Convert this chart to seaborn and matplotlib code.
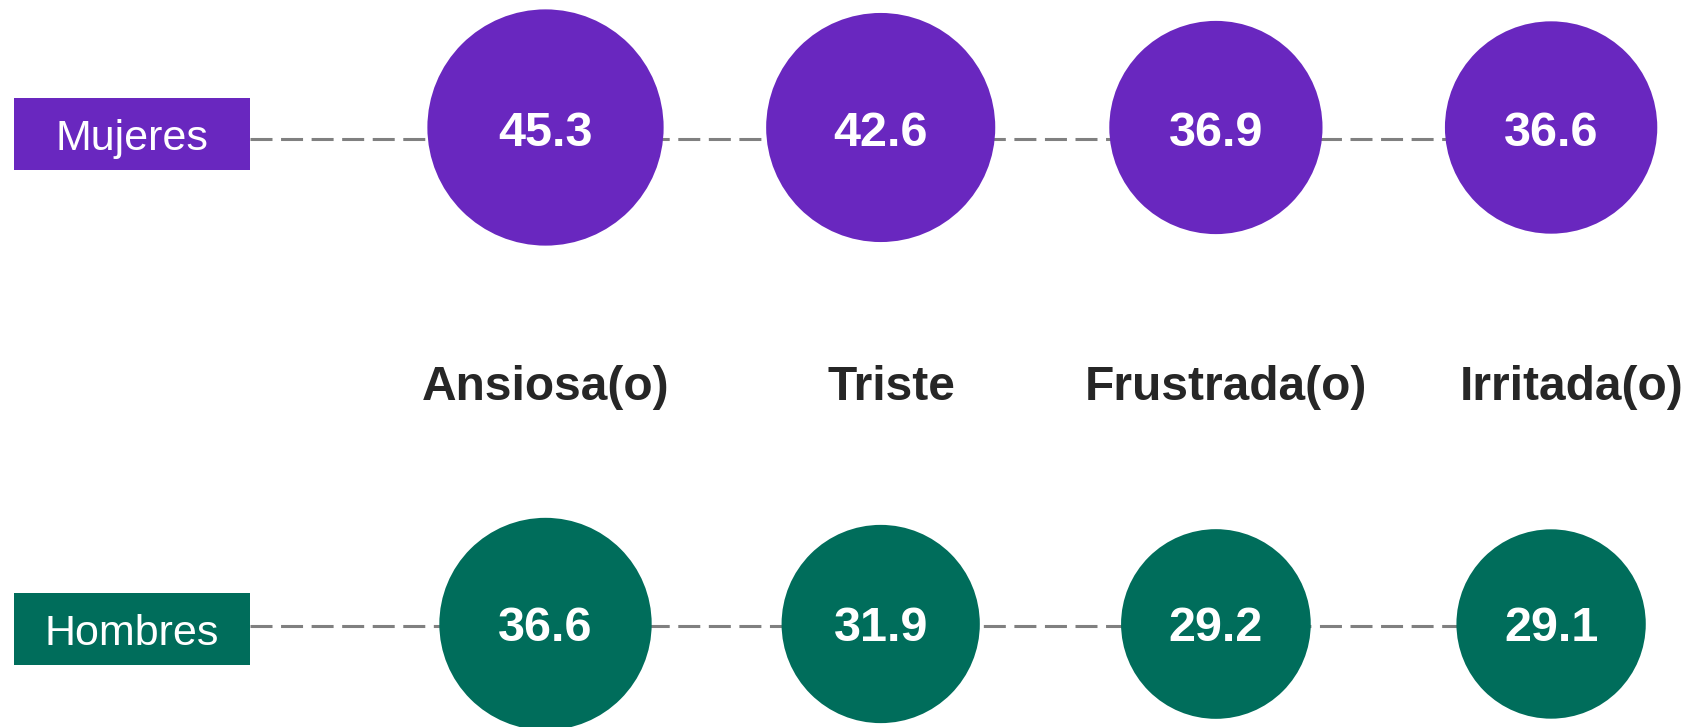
import pandas as pd
import matplotlib.pyplot as plt
import matplotlib.transforms as mtransforms
from matplotlib.patches import Rectangle
import seaborn as sns

emociones = ["Ansiosa(o)", "Triste", "Frustrada(o)", "Irritada(o)"]
grupos = ["Mujeres", "Hombres"]
mujeres = [45.3, 42.6, 36.9, 36.6]
hombres = [36.6, 31.9, 29.2, 29.1]

colores = {"Mujeres": "#6927BF", "Hombres": "#006D5B"}

df = pd.DataFrame({
    "emocion": emociones * 2,
    "grupo": ["Mujeres"] * 4 + ["Hombres"] * 4,
    "valor": mujeres + hombres,
})

# layout in pixels (figure is 1690 x 727 at dpi 100)
W, H = 1690, 727
x0_px, dx_px = 545.5, 335.2     # centre of first column, column spacing
y0_px, dy_px = 127.5, 496.5     # centre of first row, row spacing
area_per_unit = 638.7           # marker area (pt^2) per unit of value

sns.set_theme(style="white")
plt.rcParams["font.family"] = ["Liberation Sans", "DejaVu Sans"]

fig = plt.figure(figsize=(W / 100, H / 100), dpi=100)
ax = fig.add_axes([0, 0, 1, 1])

sns.scatterplot(
    data=df, x="emocion", y="grupo", hue="grupo", palette=colores,
    size="valor", sizes=(0, 50 * area_per_unit), size_norm=(0, 50),
    linewidth=0, legend=False, ax=ax, zorder=2,
)

ax.set_xlim(-x0_px / dx_px, (W - x0_px) / dx_px)
ax.set_ylim((H - y0_px) / dy_px, -y0_px / dy_px)
ax.axis("off")

box_left, box_right = 14, 250
box_h = 72
line_dy = {"Mujeres": -11.8, "Hombres": -2.0}   # pixel offsets of the dashed lines
box_dy = {"Mujeres": 6.5, "Hombres": 5.0}
text_dy = {"Mujeres": 5.5, "Hombres": 4.5}
label_dx = [0, 11, 10, 21]                      # small pixel shifts of the category labels

for j, (g, vals) in enumerate(zip(grupos, [mujeres, hombres])):
    # dashed guide line from label box to last circle
    tr = mtransforms.offset_copy(ax.transData, fig=fig, x=0, y=line_dy[g], units="dots")
    ax.plot([(box_right - x0_px) / dx_px, len(emociones) - 1], [j, j],
            color="#808080", lw=2.2, ls=(0, (7.2, 2.8)), zorder=1, transform=tr)

    # group label box
    cy = y0_px + dy_px * j + box_dy[g]
    rect = Rectangle((box_left / W, 1 - (cy + box_h / 2) / H),
                     (box_right - box_left) / W, box_h / H,
                     transform=fig.transFigure, facecolor=colores[g],
                     edgecolor="none", zorder=3)
    fig.patches.append(rect)
    fig.text((box_left + box_right) / 2 / W, 1 - (cy + 5) / H, g,
             ha="center", va="center", color="white", fontsize=31, zorder=4)

    # values inside circles
    for i, v in enumerate(vals):
        ax.annotate(f"{v:.1f}", (i, j), xytext=(0, -text_dy[g] * 0.72),
                    textcoords="offset points", ha="center", va="center",
                    color="white", fontsize=35, fontweight="bold", zorder=4)

# category labels between the rows
for i, e in enumerate(emociones):
    ax.annotate(e, (i, 1 - 400 / H), xycoords=ax.get_xaxis_transform(),
                xytext=(label_dx[i] * 0.72, 0), textcoords="offset points",
                ha="center", va="baseline", color="#262626",
                fontsize=34.5, fontweight="bold")

fig.savefig("out.png", dpi=100)
plt.close(fig)
